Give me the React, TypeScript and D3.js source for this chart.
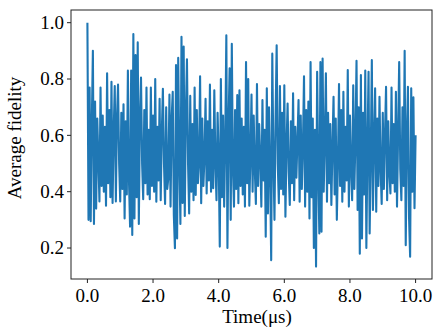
import React from "react";
import * as d3 from "d3";

const fidelity = [
  1.0, 0.30, 0.77, 0.295, 0.64, 0.90, 0.285, 0.72, 0.34, 0.66,
  0.52, 0.365, 0.77, 0.42, 0.67, 0.40, 0.63, 0.35, 0.82, 0.43,
  0.69, 0.38, 0.79, 0.36, 0.61, 0.775, 0.365, 0.66, 0.78, 0.50,
  0.365, 0.68, 0.41, 0.71, 0.305, 0.65, 0.39, 0.83, 0.44, 0.276,
  0.83, 0.246, 0.96, 0.305, 0.885, 0.38, 0.93, 0.285, 0.66, 0.805,
  0.50, 0.373, 0.69, 0.43, 0.77, 0.39, 0.62, 0.373, 0.77, 0.42,
  0.67, 0.40, 0.80, 0.364, 0.63, 0.44, 0.73, 0.37, 0.61, 0.765,
  0.50, 0.356, 0.70, 0.41, 0.45, 0.745, 0.347, 0.66, 0.755, 0.317,
  0.199, 0.85, 0.234, 0.875, 0.52, 0.285, 0.95, 0.36, 0.915, 0.314,
  0.68, 0.87, 0.50, 0.323, 0.74, 0.40, 0.64, 0.37, 0.77, 0.388,
  0.69, 0.43, 0.50, 0.81, 0.359, 0.66, 0.42, 0.52, 0.73, 0.394,
  0.65, 0.44, 0.78, 0.40, 0.62, 0.412, 0.76, 0.50, 0.37, 0.68,
  0.52, 0.205, 0.80, 0.38, 0.67, 0.347, 0.58, 0.955, 0.20, 0.64,
  0.838, 0.30, 0.925, 0.48, 0.347, 0.69, 0.41, 0.743, 0.359, 0.76,
  0.42, 0.66, 0.39, 0.63, 0.347, 0.86, 0.43, 0.80, 0.35, 0.52,
  0.745, 0.40, 0.67, 0.48, 0.356, 0.782, 0.42, 0.64, 0.52, 0.347,
  0.725, 0.44, 0.62, 0.24, 0.767, 0.323, 0.70, 0.48, 0.157, 0.89,
  0.52, 0.30, 0.66, 0.92, 0.50, 0.359, 0.775, 0.41, 0.68, 0.39,
  0.778, 0.311, 0.56, 0.713, 0.47, 0.353, 0.65, 0.43, 0.749, 0.37,
  0.63, 0.45, 0.58, 0.725, 0.364, 0.67, 0.41, 0.56, 0.81, 0.347,
  0.69, 0.40, 0.72, 0.305, 0.86, 0.38, 0.66, 0.20, 0.62, 0.134,
  0.826, 0.48, 0.252, 0.86, 0.258, 0.873, 0.40, 0.58, 0.82, 0.364,
  0.68, 0.43, 0.64, 0.353, 0.56, 0.737, 0.39, 0.66, 0.30, 0.50,
  0.782, 0.42, 0.69, 0.364, 0.755, 0.40, 0.63, 0.44, 0.832, 0.347,
  0.67, 0.48, 0.37, 0.778, 0.41, 0.58, 0.865, 0.335, 0.70, 0.18,
  0.814, 0.234, 0.68, 0.39, 0.83, 0.20, 0.56, 0.826, 0.252, 0.52,
  0.867, 0.335, 0.58, 0.767, 0.329, 0.66, 0.42, 0.737, 0.48, 0.356,
  0.68, 0.41, 0.60, 0.772, 0.37, 0.65, 0.47, 0.394, 0.77, 0.43,
  0.64, 0.40, 0.755, 0.347, 0.60, 0.86, 0.48, 0.37, 0.70, 0.42,
  0.90, 0.21, 0.60, 0.772, 0.311, 0.169, 0.767, 0.40, 0.735, 0.341,
  0.60,
];

const tEnd = 10;
const xTicks = [0, 2, 4, 6, 8, 10];
const yTicks = [0.2, 0.4, 0.6, 0.8, 1.0];

const font = "'Liberation Serif', 'Times New Roman', serif";

export default function App() {
  const width = 436;
  const height = 331;
  const plot = { left: 71, right: 432, top: 10, bottom: 279 };

  const x = d3.scaleLinear().domain([-0.5, 10.5]).range([plot.left, plot.right]);
  const y = d3.scaleLinear().domain([0.09, 1.045]).range([plot.bottom, plot.top]);

  const dt = tEnd / (fidelity.length - 1);
  const line = d3
    .line<number>()
    .x((_, i) => x(i * dt))
    .y((d) => y(d));

  return (
    <svg
      width={width}
      height={height}
      style={{ position: "absolute", left: 0, top: 0, background: "#fff" }}
    >
      <path
        d={line(fidelity) ?? ""}
        fill="none"
        stroke="#1f77b4"
        strokeWidth={2.1}
        strokeLinejoin="round"
      />

      {/* frame */}
      <rect
        x={plot.left}
        y={plot.top}
        width={plot.right - plot.left}
        height={plot.bottom - plot.top}
        fill="none"
        stroke="#222"
        strokeWidth={1}
      />

      {/* x axis */}
      {xTicks.map((t) => (
        <g key={t} transform={`translate(${x(t)},${plot.bottom})`}>
          <line y2={4} stroke="#222" />
          <text y={22.5} textAnchor="middle" fontFamily={font} fontSize={19}>
            {t.toFixed(1)}
          </text>
        </g>
      ))}

      {/* y axis */}
      {yTicks.map((v) => (
        <g key={v} transform={`translate(${plot.left},${y(v)})`}>
          <line x2={-4} stroke="#222" />
          <text x={-7} dy="0.33em" textAnchor="end" fontFamily={font} fontSize={19}>
            {v.toFixed(1)}
          </text>
        </g>
      ))}

      <text x={257} y={322.5} textAnchor="middle" fontFamily={font} fontSize={19}>
        Time(μs)
      </text>
      <text
        transform={`translate(20.5,138) rotate(-90)`}
        textAnchor="middle"
        fontFamily={font}
        fontSize={19}
      >
        Average fidelity
      </text>
    </svg>
  );
}
